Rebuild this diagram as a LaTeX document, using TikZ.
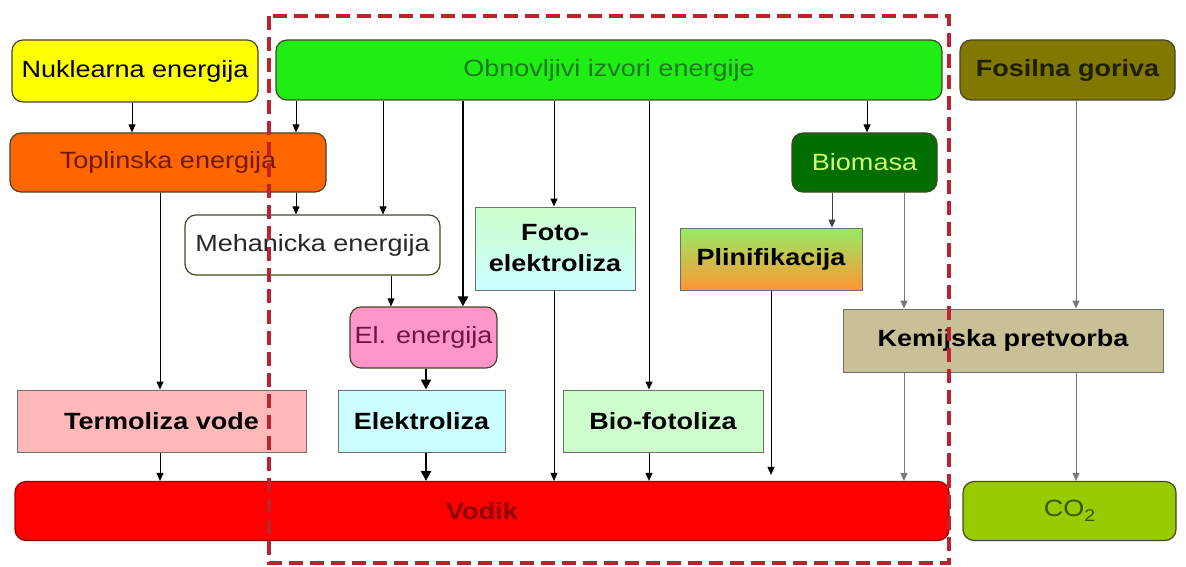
\documentclass[tikz,border=0pt]{standalone}
\usepackage{fontspec}
\setmainfont{Liberation Sans}[FakeStretch=1.15]
\usetikzlibrary{arrows.meta}
\definecolor{boxedge}{RGB}{70,70,40}
\definecolor{rectedge}{RGB}{110,110,110}
\definecolor{arrgray}{RGB}{120,120,120}
\definecolor{dashred}{RGB}{190,35,45}
\definecolor{nukfill}{RGB}{255,255,0}
\definecolor{obnfill}{RGB}{30,238,20}
\definecolor{obntext}{RGB}{30,120,30}
\definecolor{fosfill}{RGB}{128,120,0}
\definecolor{fostext}{RGB}{30,30,0}
\definecolor{topfill}{RGB}{255,102,0}
\definecolor{toptext}{RGB}{110,25,10}
\definecolor{biofill}{RGB}{0,110,0}
\definecolor{biotext}{RGB}{210,255,110}
\definecolor{mehtext}{RGB}{40,40,40}
\definecolor{elfill}{RGB}{255,150,200}
\definecolor{eltext}{RGB}{110,20,70}
\definecolor{kemfill}{RGB}{200,192,150}
\definecolor{termfill}{RGB}{255,185,185}
\definecolor{elekfill}{RGB}{204,255,255}
\definecolor{bioffill}{RGB}{204,255,204}
\definecolor{vodfill}{RGB}{255,0,0}
\definecolor{vodtext}{RGB}{140,0,0}
\definecolor{vodedge}{RGB}{150,0,0}
\definecolor{cofill}{RGB}{153,204,0}
\definecolor{cotext}{RGB}{50,90,0}
\definecolor{fototop}{RGB}{204,255,204}
\definecolor{fotobot}{RGB}{204,255,255}
\definecolor{plintop}{RGB}{150,235,100}
\definecolor{plinbot}{RGB}{255,150,50}
\begin{document}
\begin{tikzpicture}[x=1pt,y=-1pt,
  box/.style={draw=boxedge, line width=1.2pt, rounded corners=11pt, inner sep=0pt,
    font=\fontsize{23.5}{28}\selectfont},
  rbox/.style={draw=rectedge, line width=1pt, inner sep=0pt, align=center,
    font=\bfseries\fontsize{23.5}{31}\selectfont},
  arr/.style={-{Triangle[length=8pt,width=7pt]}, line width=1pt, draw=black},
  thickarr/.style={-{Triangle[length=10pt,width=10pt]}, line width=2.6pt, draw=black},
  grayarr/.style={-{Triangle[length=8pt,width=7pt]}, line width=1pt, draw=arrgray},
  dgrayarr/.style={-{Triangle[length=8pt,width=7pt]}, line width=1pt, draw=black!75},
  dashbox/.style={draw=dashred, line width=3.5pt, dash pattern=on 14pt off 7pt}
]
\useasboundingbox (0,0) rectangle (1186,567);
\fill[white] (0,0) rectangle (1186,567);

% nodes
\node[box, fill=nukfill, minimum width=246pt, minimum height=62pt] (nuk) at (135,71) {Nuklearna energija};
\node[box, fill=obnfill, text=obntext, minimum width=666pt, minimum height=60pt] (obn) at (609,70) {Obnovljivi izvori energije};
\node[box, fill=fosfill, text=fostext, font=\bfseries\fontsize{23.5}{28}\selectfont, minimum width=215pt, minimum height=60pt] (fos) at (1067.5,70) {Fosilna goriva};
\node[box, fill=topfill, text=toptext, minimum width=316pt, minimum height=59pt] (top) at (168,162.5) {Toplinska energija};
\node[box, fill=biofill, text=biotext, minimum width=145pt, minimum height=59pt] (bio) at (864.5,162.5) {Biomasa};
\node[box, fill=white, text=mehtext, minimum width=255pt, minimum height=60pt] (meh) at (312.5,245) {Mehanicka energija};
\node[rbox, top color=fototop, bottom color=fotobot, minimum width=160pt, minimum height=83pt] (foto) at (555,248.5) {Foto-\\elektroliza};
\node[rbox, top color=plintop, bottom color=plinbot, minimum width=182pt, minimum height=62pt] (plin) at (771,259) {Plinifikacija};
\node[box, fill=elfill, text=eltext, minimum width=147pt, minimum height=61pt] (el) at (423.5,337.5) {El. energija};
\node[rbox, fill=kemfill, minimum width=320pt, minimum height=63pt] (kem) at (1003,340.5) {Kemijska pretvorba};
\node[rbox, fill=termfill, minimum width=289pt, minimum height=62pt] (term) at (161.5,421) {Termoliza vode};
\node[rbox, fill=elekfill, minimum width=167pt, minimum height=62pt] (elek) at (421.5,421) {Elektroliza};
\node[rbox, fill=bioffill, minimum width=200pt, minimum height=62pt] (biof) at (663,421) {Bio-fotoliza};
\node[box, draw=vodedge, fill=vodfill, text=vodtext, font=\bfseries\fontsize{23.5}{28}\selectfont, minimum width=934pt, minimum height=59pt] (vod) at (482,511) {Vodik};
\node[box, fill=cofill, text=cotext, minimum width=213pt, minimum height=59pt] (co2) at (1069.5,511) {CO\raisebox{-5pt}{\fontsize{17}{17}\selectfont 2}};

% vertical guide coordinates
\coordinate (c132) at (132,0);
\coordinate (c160) at (160,0);
\coordinate (c296) at (296,0);
\coordinate (c383) at (383,0);
\coordinate (c391) at (391,0);
\coordinate (c426) at (426,0);
\coordinate (c463) at (463,0);
\coordinate (c554) at (554,0);
\coordinate (c649) at (649,0);
\coordinate (c771) at (771,0);
\coordinate (c832) at (832,0);
\coordinate (c867) at (867,0);
\coordinate (c904) at (904,0);
\coordinate (c1076) at (1076,0);

% connectors
\draw[arr] (c132 |- nuk.south) -- (c132 |- top.north);
\draw[arr] (c296 |- obn.south) -- (c296 |- top.north);
\draw[arr] (c296 |- top.south) -- (c296 |- meh.north);
\draw[arr] (c383 |- obn.south) -- (c383 |- meh.north);
\draw[thickarr] (c463 |- obn.south) -- (c463 |- el.north);
\draw[arr] (c554 |- obn.south) -- (c554 |- foto.north);
\draw[arr] (c649 |- obn.south) -- (c649 |- biof.north);
\draw[arr] (c867 |- obn.south) -- (c867 |- bio.north);
\draw[dgrayarr] (c832 |- bio.south) -- (c832 |- plin.north);
\draw[grayarr] (c904 |- bio.south) -- (c904 |- kem.north);
\draw[grayarr] (c1076 |- fos.south) -- (c1076 |- kem.north);
\draw[arr] (c160 |- top.south) -- (c160 |- term.north);
\draw[arr] (c391 |- meh.south) -- (c391 |- el.north);
\draw[thickarr] (c426 |- el.south) -- (c426 |- elek.north);
\draw[arr] (c160 |- term.south) -- (c160 |- vod.north);
\draw[thickarr] (c426 |- elek.south) -- (c426 |- vod.north);
\draw[arr] (c554 |- foto.south) -- (c554 |- vod.north);
\draw[arr] (c649 |- biof.south) -- (c649 |- vod.north);
\draw[arr, shorten >=6pt] (c771 |- plin.south) -- (c771 |- vod.north);
\draw[grayarr] (c904 |- kem.south) -- (c904 |- vod.north);
\draw[grayarr] (c1076 |- kem.south) -- (c1076 |- co2.north);

% dashed boundary
\draw[dashbox] (269,16) rectangle (949,563);
\end{tikzpicture}
\end{document}
